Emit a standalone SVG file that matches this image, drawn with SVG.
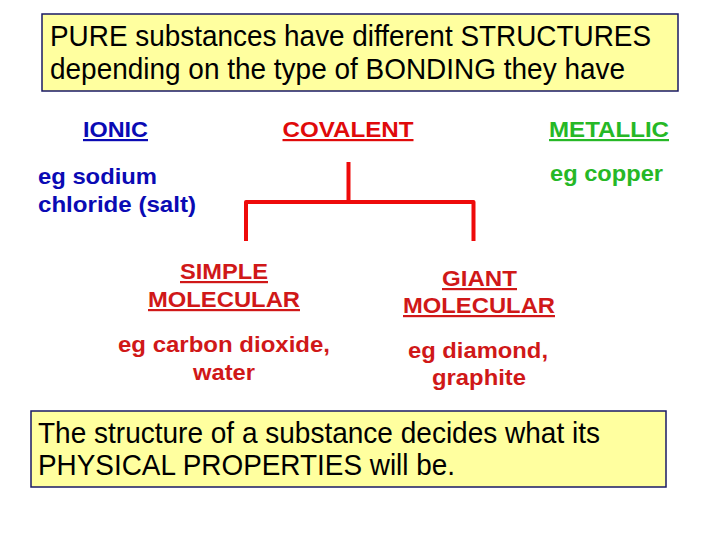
<svg xmlns="http://www.w3.org/2000/svg" width="720" height="540" viewBox="0 0 720 540">
<style>
.box{fill:#ffff9f;stroke:#1a1a66;stroke-width:1.5}
.main{font-family:"Liberation Sans",Arial,sans-serif;font-size:29px;fill:#000}
.lab{font-family:"Liberation Sans",Arial,sans-serif;font-size:22px;font-weight:bold;text-anchor:middle}
.ex{font-family:"Liberation Sans",Arial,sans-serif;font-size:22px;font-weight:bold}
.u{text-decoration:underline}
.blue{fill:#0a0ab4}
.red{fill:#e00a0a}
.dred{fill:#d01818}
.green{fill:#26b826}
.conn{stroke:#ee0a0a;stroke-width:4;fill:none;stroke-linejoin:round}
</style>
<rect width="720" height="540" fill="#fff"/>
<g id="title">
<rect class="box" x="42" y="14" width="636" height="77"/>
<text class="main" x="50" y="46" textLength="601" lengthAdjust="spacingAndGlyphs">PURE substances have different STRUCTURES</text>
<text class="main" x="50" y="79" textLength="575" lengthAdjust="spacingAndGlyphs">depending on the type of BONDING they have</text>
</g>
<g id="ionic">
<text class="lab u blue" x="115.5" y="137" textLength="65" lengthAdjust="spacingAndGlyphs">IONIC</text>
<text class="ex blue" x="38" y="184" textLength="119" lengthAdjust="spacingAndGlyphs">eg sodium</text>
<text class="ex blue" x="38" y="212" textLength="158" lengthAdjust="spacingAndGlyphs">chloride (salt)</text>
</g>
<g id="covalent">
<text class="lab u red" x="348" y="137" textLength="131" lengthAdjust="spacingAndGlyphs">COVALENT</text>
</g>
<g id="metallic">
<text class="lab u green" x="609" y="137" textLength="120" lengthAdjust="spacingAndGlyphs">METALLIC</text>
<text class="ex green" x="550" y="181" textLength="113" lengthAdjust="spacingAndGlyphs">eg copper</text>
</g>
<g id="connectors">
<path class="conn" d="M348.5 162 V202"/>
<path class="conn" d="M246 241 V202 H473.5 V241"/>
</g>
<g id="simple">
<text class="lab u dred" x="224" y="279" textLength="88" lengthAdjust="spacingAndGlyphs">SIMPLE</text>
<text class="lab u dred" x="224" y="307" textLength="152" lengthAdjust="spacingAndGlyphs">MOLECULAR</text>
<text class="lab dred" x="224" y="352" textLength="212" lengthAdjust="spacingAndGlyphs">eg carbon dioxide,</text>
<text class="lab dred" x="224" y="380" textLength="62" lengthAdjust="spacingAndGlyphs">water</text>
</g>
<g id="giant">
<text class="lab u dred" x="479.5" y="286" textLength="75" lengthAdjust="spacingAndGlyphs">GIANT</text>
<text class="lab u dred" x="479" y="313" textLength="152" lengthAdjust="spacingAndGlyphs">MOLECULAR</text>
<text class="lab dred" x="478" y="358" textLength="140" lengthAdjust="spacingAndGlyphs">eg diamond,</text>
<text class="lab dred" x="479" y="385" textLength="94" lengthAdjust="spacingAndGlyphs">graphite</text>
</g>
<g id="summary">
<rect class="box" x="31" y="411" width="635" height="76"/>
<text class="main" x="38" y="443" textLength="562" lengthAdjust="spacingAndGlyphs">The structure of a substance decides what its</text>
<text class="main" x="38" y="475" textLength="417" lengthAdjust="spacingAndGlyphs">PHYSICAL PROPERTIES will be.</text>
</g>
</svg>
